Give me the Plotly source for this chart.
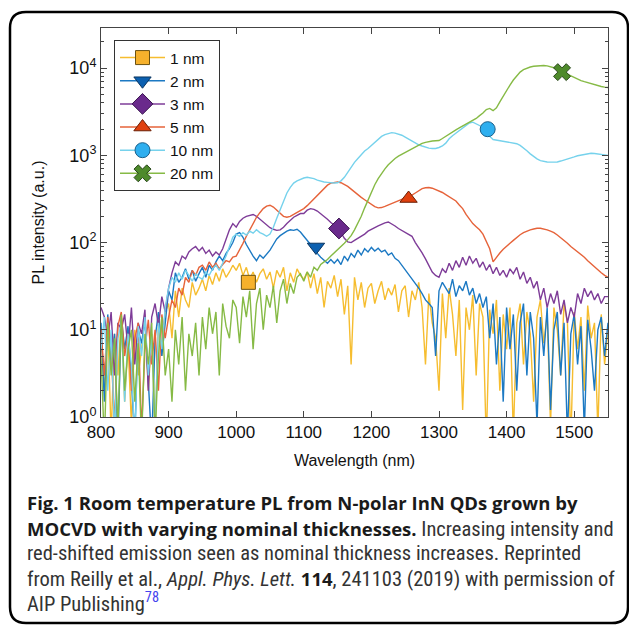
import plotly.graph_objects as go

# ---------------- data ----------------
wavelength = list(range(800, 1551, 5))  # nm, shared sampling grid

pl_1nm = [8, 2, 12, 0.6, 9, 3, 14, 1.5, 7, 0.8,
          10, 3, 6, 15, 2, 9, 0.7, 12, 5, 16,
          20, 8, 28, 14, 30, 22, 18, 35, 25, 30,
          38, 28, 42, 33, 45, 36, 50, 40, 46, 55,
          48, 58, 42, 52, 38, 46, 35, 44, 50, 38,
          46, 30, 48, 40, 52, 28, 45, 35, 50, 42,
          38, 46, 30, 44, 26, 40, 18, 36, 30, 42,
          24, 38, 15, 32, 4, 40, 22, 35, 18, 30,
          34, 20, 28, 36, 22, 30, 25, 33, 16, 28,
          32, 14, 28, 22, 35, 18, 4, 26, 12, 8,
          2, 26, 8, 30, 15, 5, 22, 1.2, 18, 10,
          25, 3, 20, 14, 0.5, 17, 9, 22, 2, 15,
          6, 18, 0.6, 12, 20, 4, 16, 9, 1.5, 14,
          22, 7, 15, 0.8, 18, 10, 3, 20, 12, 0.5,
          16, 6, 14, 2, 19, 8, 12, 0.7, 15, 4,
          10]

pl_2nm = [12, 1.5, 15, 4, 9, 0.5, 14, 6, 11, 2,
          0.6, 10, 7, 13, 3, 0.5, 8, 16, 5, 12,
          28, 22, 45, 35, 40, 50, 38, 48, 36, 44,
          52, 40, 55, 48, 60, 70, 62, 75, 85, 100,
          125, 130, 115, 95, 80, 70, 62, 72, 66, 74,
          82, 95, 110, 120, 128, 135, 140, 138, 142, 132,
          118, 105, 95, 88, 75, 68, 62, 58, 64, 58,
          64, 56, 70, 62, 75, 68, 82, 72, 85, 78,
          88, 80, 86, 78, 82, 72, 76, 66, 62, 55,
          48, 44, 38, 34, 30, 26, 22, 20, 18, 5,
          28, 35, 30, 26, 38, 24, 32, 28, 36, 25,
          30, 20, 26, 18, 24, 8, 20, 4, 14, 1.5,
          18, 6, 15, 2, 12, 20, 3, 16, 8, 0.8,
          14, 5, 18, 1.2, 10, 16, 3, 12, 0.6, 9,
          15, 4, 11, 0.7, 13, 6, 2, 10, 14, 5,
          12]

pl_3nm = [18, 14, 8, 16, 3, 12, 10, 15, 6, 18,
          4, 12, 9, 17, 2, 14, 20, 11, 24, 16,
          30, 45, 60, 55, 70, 65, 78, 85, 90, 80,
          88, 75, 82, 70, 78, 72, 85, 110, 140, 165,
          150, 175, 190, 200, 205, 210, 200, 185, 170, 158,
          148, 142, 138, 140, 150, 165, 180, 195, 205, 215,
          215, 235, 245, 240, 230, 215, 200, 185, 170, 160,
          148, 130, 112, 102, 100, 106, 112, 118, 125, 135,
          140, 148, 155, 162, 168, 172, 165, 155, 145, 138,
          130, 125, 118, 100, 88, 76, 65, 55, 46, 42,
          40, 50, 45, 58, 48, 62, 52, 68, 55, 70,
          58, 66, 52, 60, 48, 56, 44, 52, 42, 48,
          40, 50, 44, 52, 38, 46, 34, 40, 30, 36,
          22, 30, 18, 26, 20, 28, 15, 22, 12, 18,
          14, 26, 20, 30, 24, 28, 22, 26, 20, 24,
          24]

pl_5nm = [10, 3, 14, 6, 0.8, 11, 16, 5, 9, 2,
          8, 12, 0.7, 6, 13, 4, 10, 2, 15, 8,
          14, 22, 18, 30, 25, 40, 35, 48, 42, 52,
          55, 48, 60, 52, 58, 50, 56, 62, 60, 68,
          70, 82, 98, 118, 140, 165, 195, 220, 245, 262,
          268, 255, 235, 215, 200, 195, 200, 210, 220, 230,
          245, 265, 290, 320, 350, 390, 425, 455, 480, 492,
          495, 485, 465, 440, 410, 380, 350, 330, 310, 290,
          270, 258, 250, 252, 260, 270, 280, 292, 305, 315,
          322, 335, 350, 370, 395, 415, 425, 428, 420, 405,
          395, 375, 355, 335, 315, 300, 270, 245, 210, 185,
          165, 152, 140, 125, 105, 85, 60, 68, 76, 84,
          90, 98, 106, 115, 123, 130, 136, 140, 143, 146,
          146, 144, 140, 135, 130, 122, 114, 106, 98, 90,
          84, 78, 74, 68, 62, 57, 52, 48, 45, 42,
          40]

pl_10nm = [6, 14, 2, 10, 0.6, 8, 12, 1.5, 9, 4,
           0.5, 11, 5, 14, 3, 9, 0.7, 12, 6, 18,
           30, 40, 35, 45, 38, 48, 42, 36, 44, 40,
           38, 46, 42, 50, 55, 48, 58, 70, 90, 115,
           125, 118, 130, 122, 135, 128, 140, 130, 125, 118,
           125, 150, 190, 240, 300, 370, 430, 480, 510, 530,
           550, 560, 555, 540, 520, 505, 495, 490, 485, 482,
           485, 510, 560, 640, 730, 830, 920, 1020, 1120, 1200,
           1300, 1420, 1550, 1650, 1730, 1790, 1820, 1800, 1760, 1700,
           1620, 1540, 1460, 1380, 1320, 1280, 1240, 1210, 1200, 1200,
           1230, 1280, 1380, 1550, 1680, 1800, 1920, 2050, 2200, 2350,
           2400, 2300, 2200, 2100, 1900, 1650, 1520, 1500, 1480, 1460,
           1440, 1420, 1390, 1360, 1300, 1220, 1130, 1040, 970, 910,
           870, 850, 840, 835, 830, 840, 860, 880, 905, 930,
           960, 990, 1010, 1030, 1050, 1055, 1050, 1040, 1020, 1010,
           1000]

pl_20nm = [5, 0.5, 12, 3, 8, 0.7, 15, 2, 6, 10,
           1.5, 7, 0.5, 9, 4, 12, 0.6, 5, 14, 3,
           6, 1.5, 10, 4, 14, 2, 9, 5, 12, 3,
           14, 6, 18, 9, 16, 3, 20, 11, 8, 22,
           18, 7, 24, 14, 28, 6, 20, 30, 10, 25,
           18, 32, 12, 28, 38, 20, 34, 26, 40, 44,
           36, 46, 40, 52, 48, 56, 60, 64, 70, 76,
           82, 90, 98, 108, 120, 140, 165, 200, 250, 310,
           380, 460, 540, 620, 700, 780, 850, 920, 980, 1030,
           1080, 1140, 1200, 1260, 1320, 1370, 1410, 1440, 1460, 1470,
           1480, 1560, 1660, 1760, 1860, 1960, 2060, 2160, 2270, 2380,
           2500, 2650, 2850, 3050, 3350, 3450, 3250, 3500, 4100, 4800,
           5600, 6400, 7300, 8200, 9000, 9600, 10000, 10300, 10500, 10600,
           10700, 10700, 10600, 10400, 10100, 9700, 9300, 8900, 8500, 8100,
           7800, 7500, 7200, 7000, 6800, 6600, 6400, 6250, 6150, 6050,
           6000]

series_names = ["1 nm", "2 nm", "3 nm", "5 nm", "10 nm", "20 nm"]
series_values = [pl_1nm, pl_2nm, pl_3nm, pl_5nm, pl_10nm, pl_20nm]
marker_wavelength = [1018, 1118, 1152, 1255, 1372, 1482]
marker_intensity = [35, 89, 145, 320, 1995, 9000]

# ---------------- styles ----------------
line_colors = ["#F6BD2F", "#1C79C3", "#7E3C98", "#E6633A", "#76D2EC", "#86BA45"]
marker_fill = ["#F6B12C", "#0C60B0", "#6A2A8C", "#E0400E", "#2FAFEF", "#4E8A2B"]
marker_edge = ["#6B5212", "#0A3560", "#3A1550", "#6A1E05", "#1A5F8A", "#28461A"]
marker_symbol = ["square", "triangle-down", "diamond", "triangle-up", "circle", "x"]
marker_size = [14, 15, 16, 15, 15, 15]

W, H = 629, 628
L, R, T, B = 101, 21, 28, 211
pw, ph = W - L - R, H - T - B


def px(x):
    return (x - L) / pw


def py(y):
    return (H - B - y) / ph


fig = go.Figure()
for name, vals, col in zip(series_names, series_values, line_colors):
    fig.add_trace(go.Scatter(x=wavelength, y=vals, mode="lines",
                             line=dict(color=col, width=1.4),
                             showlegend=False, hoverinfo="skip"))

for i, name in enumerate(series_names):
    fig.add_trace(go.Scatter(
        x=[marker_wavelength[i]], y=[marker_intensity[i]], mode="lines+markers",
        name=name, line=dict(color=line_colors[i], width=1.5),
        marker=dict(symbol=marker_symbol[i], size=marker_size[i], color=marker_fill[i],
                    line=dict(color=marker_edge[i], width=1)),
        cliponaxis=False))

minor_y = [m * 10 ** e for e in range(0, 5) for m in range(2, 10)]

sans = "Liberation Sans, Arial, sans-serif"
fig.update_xaxes(range=[800, 1550], tickvals=list(range(800, 1501, 100)),
                 ticks="inside", ticklen=6, tickcolor="#444", mirror="ticks",
                 showline=True, linecolor="#444", linewidth=1, showgrid=False,
                 zeroline=False, tickfont=dict(family=sans, size=17, color="#111"),
                 title=dict(text="Wavelength (nm)", standoff=13,
                            font=dict(family=sans, size=16, color="#111")))
fig.update_yaxes(type="log", range=[0, 4.46],
                 tickvals=[1, 10, 100, 1000, 10000],
                 ticktext=["10<sup>0</sup>", "10<sup>1</sup>", "10<sup>2</sup>", "10<sup>3</sup>", "10<sup>4</sup>"],
                 ticks="inside", ticklen=6, tickcolor="#444", mirror="ticks",
                 minor=dict(tickmode="array", tickvals=minor_y, ticks="inside", ticklen=3,
                            tickcolor="#444", showgrid=False),
                 showline=True, linecolor="#444", linewidth=1, showgrid=False,
                 zeroline=False, tickfont=dict(family=sans, size=18, color="#111"),
                 title=dict(text="PL intensity (a.u.)", standoff=20,
                            font=dict(family=sans, size=16, color="#111")))

fig.update_layout(
    width=W, height=H, margin=dict(l=L, r=R, t=T, b=B),
    paper_bgcolor="white", plot_bgcolor="white",
    legend=dict(x=px(114), y=py(40), xanchor="left", yanchor="top",
                bgcolor="white", bordercolor="#333", borderwidth=1,
                font=dict(family=sans, size=15.5, color="#111"),
                itemwidth=45, tracegroupgap=0),
)

# rounded frame
x0, x1, y0, y1, r = 10, 628, 12, 623, 16
path = (f"M {px(x0 + r)},{py(y0)} L {px(x1 - r)},{py(y0)} Q {px(x1)},{py(y0)} {px(x1)},{py(y0 + r)} "
        f"L {px(x1)},{py(y1 - r)} Q {px(x1)},{py(y1)} {px(x1 - r)},{py(y1)} "
        f"L {px(x0 + r)},{py(y1)} Q {px(x0)},{py(y1)} {px(x0)},{py(y1 - r)} "
        f"L {px(x0)},{py(y0 + r)} Q {px(x0)},{py(y0)} {px(x0 + r)},{py(y0)} Z")
fig.add_shape(type="path", path=path, xref="paper", yref="paper",
              line=dict(color="black", width=2.5), layer="below")

cap_font = dict(family="Roboto Condensed, Liberation Sans Narrow, Open Sans, sans-serif",
                size=20.5, color="#333")
bold_open = "<span style='font-family:Open Sans, sans-serif;font-size:18.5px;font-weight:bold;fill:#1a1a1a'>"
caption_lines = [
    bold_open + "Fig. 1 Room temperature PL from N-polar InN QDs grown by</span>",
    bold_open + "MOCVD with varying nominal thicknesses.</span> Increasing intensity and",
    "red-shifted emission seen as nominal thickness increases. Reprinted",
    "from Reilly et al., <i>Appl. Phys. Lett.</i> " + bold_open + "114</span>, 241103 (2019) with permission of",
    "AIP Publishing<sup><span style='fill:#4444ee'>78</span></sup>",
]
caption_y = [502, 528, 553, 578, 602]
for txt, yy in zip(caption_lines, caption_y):
    fig.add_annotation(text=txt, x=px(25), y=py(yy), xref="paper", yref="paper",
                       xanchor="left", yanchor="middle", showarrow=False, font=cap_font)

fig.write_html("out.html")
